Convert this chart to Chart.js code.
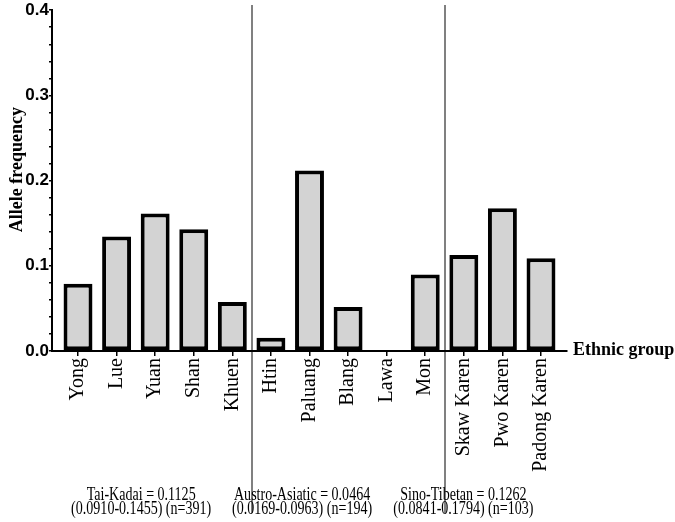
<!DOCTYPE html>
<html>
<head>
<meta charset="utf-8">
<script src="https://cdn.jsdelivr.net/npm/chart.js@4/dist/chart.umd.min.js"></script>
<style>
  html, body { margin: 0; padding: 0; background: #fff; }
</style>
</head>
<body>
<canvas id="chart" width="675" height="522"></canvas>
<script>
// ethnic groups, in plot order
const groups = ['Yong', 'Lue', 'Yuan', 'Shan', 'Khuen',
                'Htin', 'Paluang', 'Blang', 'Lawa', 'Mon',
                'Skaw Karen', 'Pwo Karen', 'Padong Karen'];
const frequencies = [0.079, 0.1345, 0.1615, 0.143, 0.0575,
                     0.0155, 0.212, 0.0517, 0, 0.0898,
                     0.1127, 0.1676, 0.1088];

// y axis: 0 to 0.4, labelled every 0.1, minor ticks every 0.02
const yMax = 0.4;
const yMinorStep = 0.02;

// language family boundaries (between category indexes)
const familyBreaks = [4.5, 9.5];
const familySummaries = [
  ['Tai-Kadai = 0.1125', '(0.0910-0.1455) (n=391)'],
  ['Austro-Asiatic = 0.0464', '(0.0169-0.0963) (n=194)'],
  ['Sino-Tibetan = 0.1262', '(0.0841-0.1794) (n=103)']
];

const annotate = {
  id: 'annotate',
  beforeDraw(chart) {
    const ctx = chart.ctx;
    const x = chart.scales.x;
    ctx.save();
    ctx.strokeStyle = '#808080';
    ctx.lineWidth = 2;
    familyBreaks.forEach(b => {
      const px = Math.round(x.getPixelForValue(b));
      ctx.beginPath();
      ctx.moveTo(px, 5);
      ctx.lineTo(px, 513);
      ctx.stroke();
    });
    ctx.restore();
  },
  afterDraw(chart) {
    const ctx = chart.ctx;
    const area = chart.chartArea;
    const x = chart.scales.x;
    ctx.save();
    ctx.fillStyle = '#000';

    // y title
    ctx.save();
    ctx.translate(17, (area.top + area.bottom) / 2 - 11);
    ctx.rotate(-Math.PI / 2);
    ctx.font = 'bold 18px "Liberation Serif"';
    ctx.textAlign = 'center';
    ctx.textBaseline = 'middle';
    ctx.fillText('Allele frequency', 0, 0);
    ctx.restore();

    // x title, at the end of the axis
    ctx.font = 'bold 18px "Liberation Serif"';
    ctx.textAlign = 'left';
    ctx.textBaseline = 'alphabetic';
    ctx.fillText('Ethnic group', area.right + 6, area.bottom + 4);

    // family summaries under the labels
    const centers = [
      (x.getPixelForValue(0) + x.getPixelForValue(4)) / 2 - 14,
      (x.getPixelForValue(5) + x.getPixelForValue(9)) / 2 - 46,
      (x.getPixelForValue(10) + x.getPixelForValue(12)) / 2 - 39
    ];
    ctx.font = '18px "Liberation Serif"';
    ctx.textAlign = 'center';
    familySummaries.forEach((lines, i) => {
      lines.forEach((t, j) => {
        ctx.save();
        ctx.translate(centers[i], 500 + j * 14);
        ctx.scale(0.78, 1);
        ctx.fillText(t, 0, 0);
        ctx.restore();
      });
    });
    ctx.restore();
  }
};

new Chart(document.getElementById('chart'), {
  type: 'bar',
  data: {
    datasets: [{
      data: frequencies.map((v, i) => ({ x: i, y: v })),
      backgroundColor: '#d3d3d3',
      borderColor: '#000',
      borderWidth: 4,
      borderSkipped: false,
      barPercentage: 0.75,
      categoryPercentage: 1
    }]
  },
  options: {
    responsive: false,
    animation: false,
    layout: { padding: { top: 8, right: 108, left: 0, bottom: 0 } },
    plugins: { legend: { display: false }, tooltip: { enabled: false } },
    scales: {
      x: {
        type: 'linear',
        offset: false,
        min: -0.674,
        max: groups.length - 1 + 0.674,
        afterBuildTicks: s => { s.ticks = groups.map((_, i) => ({ value: i })); },
        afterFit: s => { s.height = 171; },
        ticks: {
          autoSkip: false,
          minRotation: 90,
          maxRotation: 90,
          padding: 2,
          color: '#000',
          font: { family: 'Liberation Serif', size: 20 },
          callback: v => groups[v]
        },
        grid: { offset: false, drawOnChartArea: false, tickLength: 5, color: '#000', lineWidth: 1.5 },
        border: { color: '#000', width: 2 }
      },
      y: {
        min: 0,
        max: yMax,
        afterFit: s => { s.width = 52; },
        ticks: {
          autoSkip: false,
          stepSize: yMinorStep,
          padding: 0,
          color: '#000',
          font: { family: 'Liberation Sans', weight: 'bold', size: 17 },
          callback: v => (Math.round(v * 100) % 10 === 0 ? v.toFixed(1) : '')
        },
        grid: { drawOnChartArea: false, tickLength: 3, color: '#000', lineWidth: 1.5 },
        border: { color: '#000', width: 2 }
      }
    }
  },
  plugins: [annotate]
});
</script>
</body>
</html>
